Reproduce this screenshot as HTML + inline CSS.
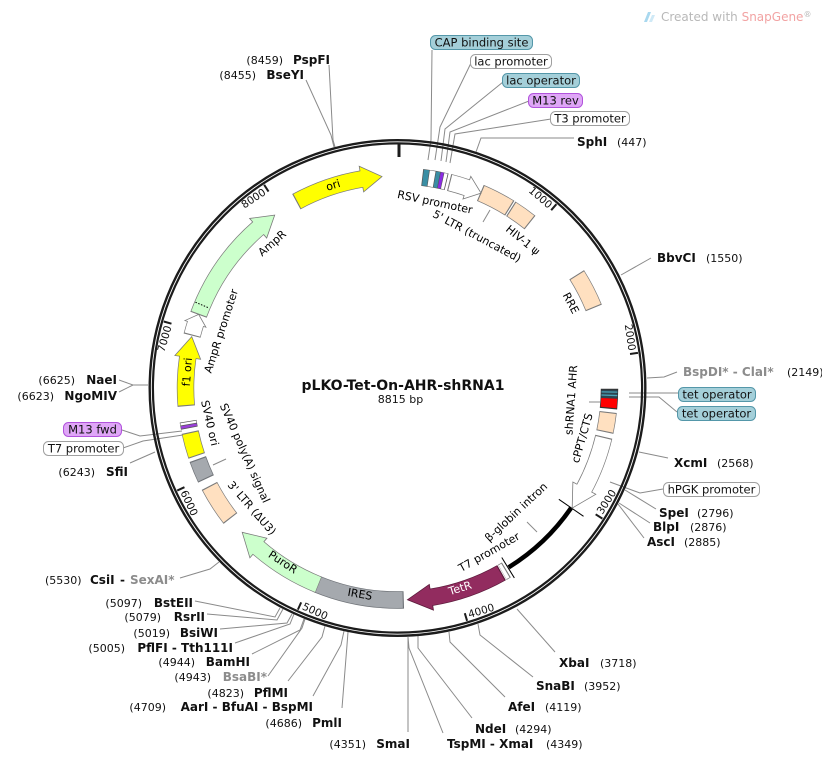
<!DOCTYPE html>
<html><head><meta charset="utf-8"><style>
html,body{margin:0;padding:0;background:#fff;}
svg{display:block;}
text{font-family:"DejaVu Sans","Liberation Sans",sans-serif;}
</style></head><body>
<svg width="822" height="761" viewBox="0 0 822 761" xmlns="http://www.w3.org/2000/svg">
<rect width="822" height="761" fill="#fff"/>

<!-- watermark -->
<g>
<path d="M644 22 L648 12 L651 12 L647 22 Z" fill="#a9d8ef"/>
<path d="M649 22 L652 15 L655 15 L652 22 Z" fill="#cfe9f6"/>
<text x="661" y="21" font-size="12" fill="#b8b8b8">Created with <tspan fill="#f2a3a3">SnapGene</tspan><tspan font-size="8" dy="-4">®</tspan></text>
</g>

<!-- connector lines (absolute) -->
<g fill="none" stroke="#8a8a8a" stroke-width="1">
<polyline points="329,65 333,140 335,147"/>
<polyline points="306,80 331,135 334,147"/>
<polyline points="574,138 481,138 476,152"/>
<polyline points="651,258 621,275"/>
<polyline points="677,372 664,377 647,378"/>
<polyline points="668,458 639,452"/>
<polyline points="656,509 625,490"/>
<polyline points="650,523 619,503"/>
<polyline points="644,538 618,504"/>
<polyline points="555,652 517,609"/>
<polyline points="533,677 480,635 478,624"/>
<polyline points="505,697 450,642 449,632"/>
<polyline points="472,718 418,648 418,636"/>
<polyline points="443,733 409,648 408,637"/>
<polyline points="408,732 408,637"/>
<polyline points="342,708 347,645 348,632"/>
<polyline points="313,696 341,645 344,631"/>
<polyline points="288,681 322,637 325,626"/>
<polyline points="268,676 302,628 305,619"/>
<polyline points="252,654 300,630 304,619"/>
<polyline points="235,643 290,624 294,614"/>
<polyline points="220,629 287,623 292,614"/>
<polyline points="207,614 277,620 283,609"/>
<polyline points="195,601 275,617 280,608"/>
<polyline points="180,578 210,569 219,562"/>
<polyline points="130,463 155,452"/>
<polyline points="119,380 133,385 148,385"/>
<polyline points="119,392 133,385"/>
<!-- feature label lines -->
<polyline points="432,50 431,140 428,160"/>
<polyline points="471,63 440,127 435,160"/>
<polyline points="503,82 445,129 441,161"/>
<polyline points="529,101 450,132 446,162"/>
<polyline points="551,119 455,134 450,163"/>
<polyline points="678,393 629,393"/>
<polyline points="677,412 659,397 629,397"/>
<polyline points="663,489 640,493 610,482"/>
<polyline points="122,430 140,436 182,431"/>
<polyline points="123,448 143,441 183,435"/>
<polyline points="589,402 600,402"/>
<polyline points="490,210 483,222"/>
<polyline points="226,459 213,465"/>
<polyline points="527,522 537,532"/>
</g>

<g transform="translate(397.5,388)">
<!-- backbone ring -->
<circle r="247.8" fill="none" stroke="#1c1c1c" stroke-width="2.4"/>
<circle r="244.6" fill="none" stroke="#1c1c1c" stroke-width="2.2"/>
<!-- ticks -->
<line x1="1.5" y1="-245" x2="1.5" y2="-231" stroke="#1c1c1c" stroke-width="3"/>
<g stroke="#1c1c1c" stroke-width="2">
<line x1="0" y1="-243" x2="0" y2="-235" transform="rotate(40.84)"/>
<line x1="0" y1="-243" x2="0" y2="-235" transform="rotate(81.68)"/>
<line x1="0" y1="-243" x2="0" y2="-235" transform="rotate(122.52)"/>
<line x1="0" y1="-243" x2="0" y2="-235" transform="rotate(163.36)"/>
<line x1="0" y1="-243" x2="0" y2="-235" transform="rotate(204.2)"/>
<line x1="0" y1="-243" x2="0" y2="-235" transform="rotate(245.04)"/>
<line x1="0" y1="-243" x2="0" y2="-235" transform="rotate(285.88)"/>
<line x1="0" y1="-243" x2="0" y2="-235" transform="rotate(326.72)"/>
</g>
<g font-size="10.5" fill="#111">
<text x="-3" y="-234" text-anchor="end" transform="rotate(40.84)">1000</text>
<text x="-3" y="-234" text-anchor="end" transform="rotate(81.68)">2000</text>
<text x="3" y="241" transform="rotate(-57.48)">3000</text>
<text x="3" y="241" transform="rotate(-16.64)">4000</text>
<text x="3" y="241" transform="rotate(24.2)">5000</text>
<text x="3" y="241" transform="rotate(65.04)">6000</text>
<text x="-3" y="-234" text-anchor="end" transform="rotate(285.88)">7000</text>
<text x="-3" y="-234" text-anchor="end" transform="rotate(326.72)">8000</text>
</g>

<!-- features -->
<g fill="none">
<!-- ori -->
<circle r="212" stroke="#7a7a7a" stroke-width="17.4" stroke-dasharray="69.2 2000" transform="rotate(241.5)"/>
<polygon points="0,-225 20.7,-211 0,-199" fill="#ffff00" stroke="#7a7a7a" stroke-width="0.8" transform="rotate(350.2)"/>
<circle r="212" stroke="#ffff00" stroke-width="16" stroke-dasharray="70.1 2000" transform="rotate(241.8)"/>
<!-- AmpR -->
<circle r="212" stroke="#7a7a7a" stroke-width="17.4" stroke-dasharray="106.2 2000" transform="rotate(200.2)"/>
<polygon points="0,-225 21.1,-211 0,-199" fill="#ccffcc" stroke="#7a7a7a" stroke-width="0.8" transform="rotate(318.9)"/>
<circle r="212" stroke="#ccffcc" stroke-width="16" stroke-dasharray="106.9 2000" transform="rotate(200.5)"/>
<line x1="0" y1="-219.5" x2="0" y2="-204.5" stroke="#000" stroke-width="1" stroke-dasharray="1.5 1.5" transform="rotate(293)"/>
<!-- AmpR promoter -->
<circle r="212" stroke="#7a7a7a" stroke-width="17.4" stroke-dasharray="12.2 2000" transform="rotate(194.3)"/>
<polygon points="0,-223 10,-211.8 0,-201" fill="#fff" stroke="#7a7a7a" stroke-width="0.8" transform="rotate(287.6)"/>
<circle r="212" stroke="#fff" stroke-width="16" stroke-dasharray="13 2000" transform="rotate(194.6)"/>
<!-- f1 ori -->
<circle r="212" stroke="#7a7a7a" stroke-width="17.4" stroke-dasharray="48.8 2000" transform="rotate(175.1)"/>
<polygon points="0,-225 21.1,-211 0,-199" fill="#ffff00" stroke="#7a7a7a" stroke-width="0.8" transform="rotate(278.3)"/>
<circle r="212" stroke="#ffff00" stroke-width="16" stroke-dasharray="49.6 2000" transform="rotate(175.4)"/>
<!-- M13 fwd / T7 -->
<circle r="212" stroke="#555" stroke-width="17" stroke-dasharray="7 2000" transform="rotate(169.1)"/>
<circle r="212" stroke="#9a3fd8" stroke-width="16" stroke-dasharray="2.6 2000" transform="rotate(169.3)"/>
<circle r="212" stroke="#fff" stroke-width="16" stroke-dasharray="2.2 2000" transform="rotate(170.2)"/>
<!-- SV40 ori -->
<circle r="212" stroke="#7a7a7a" stroke-width="17.4" stroke-dasharray="24.8 2000" transform="rotate(161.3)"/>
<circle r="212" stroke="#ffff00" stroke-width="16" stroke-dasharray="22.6 2000" transform="rotate(161.6)"/>
<!-- SV40 polyA -->
<circle r="212" stroke="#6f7378" stroke-width="17.4" stroke-dasharray="21.5 2000" transform="rotate(154.6)"/>
<circle r="212" stroke="#a5a9ae" stroke-width="16" stroke-dasharray="19.2 2000" transform="rotate(154.9)"/>
<!-- 3' LTR -->
<circle r="212" stroke="#7a7a7a" stroke-width="17.4" stroke-dasharray="38.9 2000" transform="rotate(142)"/>
<circle r="212" stroke="#ffe0c0" stroke-width="16" stroke-dasharray="36.6 2000" transform="rotate(142.3)"/>
<!-- IRES -->
<circle r="212" stroke="#6f7378" stroke-width="17.4" stroke-dasharray="88.8 2000" transform="rotate(88.3)"/>
<circle r="212" stroke="#a5a9ae" stroke-width="16" stroke-dasharray="86.6 2000" transform="rotate(88.6)"/>
<!-- PuroR -->
<circle r="212" stroke="#7a7a7a" stroke-width="17.4" stroke-dasharray="70.9 2000" transform="rotate(111.85)"/>
<polygon points="0,-225 22.5,-210.8 0,-199" fill="#ccffcc" stroke="#7a7a7a" stroke-width="0.8" transform="rotate(221)"/>
<circle r="212" stroke="#ccffcc" stroke-width="16" stroke-dasharray="72.2 2000" transform="rotate(112)"/>
<!-- TetR -->
<circle r="212" stroke="#5a1a3a" stroke-width="17.4" stroke-dasharray="74.7 2000" transform="rotate(60.6)"/>
<polygon points="0,-225 24,-210.6 0,-199" fill="#922c5f" stroke="#5a1a3a" stroke-width="0.8" transform="rotate(170.8)"/>
<circle r="212" stroke="#922c5f" stroke-width="16" stroke-dasharray="75.5 2000" transform="rotate(60.9)"/>
<!-- T7 promoter -->
<circle r="212" stroke="#7a7a7a" stroke-width="17.4" stroke-dasharray="4.8 2000" transform="rotate(59.1)"/>
<circle r="212" stroke="#fff" stroke-width="16" stroke-dasharray="3.4 2000" transform="rotate(59.4)"/>
<!-- beta-globin intron -->
<circle r="211" stroke="#000" stroke-width="4.5" stroke-dasharray="86.9 2000" transform="rotate(34.6)"/>
<line x1="0" y1="-223" x2="0" y2="-199" stroke="#000" stroke-width="1" transform="rotate(148.4)"/>
<line x1="0" y1="-226" x2="0" y2="-196" stroke="#000" stroke-width="1" transform="rotate(124.6)"/>
<!-- hPGK promoter -->
<circle r="212" stroke="#7a7a7a" stroke-width="17.4" stroke-dasharray="55.1 2000" transform="rotate(13.3)"/>
<polygon points="0,-225 23.3,-210.7 0,-199" fill="#fff" stroke="#7a7a7a" stroke-width="0.8" transform="rotate(118.2)"/>
<circle r="212" stroke="#fff" stroke-width="16" stroke-dasharray="55.9 2000" transform="rotate(13.6)"/>
<!-- cPPT/CTS -->
<circle r="212" stroke="#7a7a7a" stroke-width="17.4" stroke-dasharray="20.4 2000" transform="rotate(6.5)"/>
<circle r="212" stroke="#ffe0c0" stroke-width="16" stroke-dasharray="18.1 2000" transform="rotate(6.8)"/>
<!-- tet operators / shRNA -->
<circle r="212" stroke="#333" stroke-width="17.4" stroke-dasharray="20 2000" transform="rotate(0.2)"/>
<circle r="212" stroke="#2e4450" stroke-width="16" stroke-dasharray="8.5 2000" transform="rotate(0.5)"/>
<circle r="212" stroke="#4aa3b8" stroke-width="16" stroke-dasharray="1.3 2000" transform="rotate(0.9)"/>
<circle r="212" stroke="#4aa3b8" stroke-width="16" stroke-dasharray="1.3 2000" transform="rotate(1.8)"/>
<circle r="212" stroke="#ff0000" stroke-width="16" stroke-dasharray="9.25 2000" transform="rotate(2.8)"/>
<!-- RRE -->
<circle r="212" stroke="#7a7a7a" stroke-width="17.4" stroke-dasharray="37.4 2000" transform="rotate(-32.3)"/>
<circle r="212" stroke="#ffe0c0" stroke-width="16" stroke-dasharray="35.2 2000" transform="rotate(-32)"/>
<!-- HIV-1 psi -->
<circle r="212" stroke="#7a7a7a" stroke-width="17.4" stroke-dasharray="23.7 2000" transform="rotate(-57.7)"/>
<circle r="212" stroke="#ffe0c0" stroke-width="16" stroke-dasharray="21.5 2000" transform="rotate(-57.4)"/>
<!-- 5' LTR -->
<circle r="212" stroke="#7a7a7a" stroke-width="17.4" stroke-dasharray="33.3 2000" transform="rotate(-67)"/>
<circle r="212" stroke="#ffe0c0" stroke-width="16" stroke-dasharray="31.1 2000" transform="rotate(-66.7)"/>
<!-- RSV promoter -->
<circle r="212" stroke="#7a7a7a" stroke-width="17.4" stroke-dasharray="18.5 2000" transform="rotate(-75.9)"/>
<polygon points="0,-224 15.2,-211.5 0,-200" fill="#fff" stroke="#7a7a7a" stroke-width="0.8" transform="rotate(19.1)"/>
<circle r="212" stroke="#fff" stroke-width="16" stroke-dasharray="19.2 2000" transform="rotate(-75.6)"/>
<!-- lac cluster -->
<circle r="212" stroke="#555" stroke-width="17" stroke-dasharray="24.8 2000" transform="rotate(-83.3)"/>
<circle r="212" stroke="#3a8ea4" stroke-width="16" stroke-dasharray="5.2 2000" transform="rotate(-83.1)"/>
<circle r="212" stroke="#fff" stroke-width="16" stroke-dasharray="5.7 2000" transform="rotate(-81.55)"/>
<circle r="212" stroke="#3a8ea4" stroke-width="16" stroke-dasharray="3.9 2000" transform="rotate(-79.85)"/>
<circle r="212" stroke="#8a2be2" stroke-width="16" stroke-dasharray="3 2000" transform="rotate(-78.65)"/>
<circle r="212" stroke="#fff" stroke-width="16" stroke-dasharray="3.3 2000" transform="rotate(-77.7)"/>
</g>
</g>

<!-- interior labels -->
<g font-size="11" fill="#000" text-anchor="middle">
<text transform="translate(333,185) rotate(-17.6)" dy="0.35em">ori</text>
<text transform="translate(272,243) rotate(-41)" dy="0.35em">AmpR</text>
<text transform="translate(221,331) rotate(-72)" dy="0.35em">AmpR promoter</text>
<text transform="translate(187,372) rotate(-85.7)" dy="0.35em">f1 ori</text>
<text transform="translate(210,423) rotate(77)" dy="0.35em">SV40 ori</text>
<text transform="translate(245,453) rotate(66)" dy="0.35em">SV40 poly(A) signal</text>
<text transform="translate(252,508) rotate(49)" dy="0.35em">3' LTR (ΔU3)</text>
<text transform="translate(283,562) rotate(33)" dy="0.35em">PuroR</text>
<text transform="translate(360,594) rotate(10)" dy="0.35em">IRES</text>
<text transform="translate(460,588) rotate(-17.4)" dy="0.35em" fill="#fff">TetR</text>
<text transform="translate(489,552) rotate(-29.5)" dy="0.35em">T7 promoter</text>
<text transform="translate(516,512) rotate(-43)" dy="0.35em">β-globin intron</text>
<text transform="translate(582,438) rotate(-74)" dy="0.35em">cPPT/CTS</text>
<text transform="translate(571,400) rotate(-86)" dy="0.35em">shRNA1 AHR</text>
<text transform="translate(571,303) rotate(62)" dy="0.35em">RRE</text>
<text transform="translate(523,240) rotate(39)" dy="0.35em">HIV-1 ψ</text>
<text transform="translate(477,236) rotate(28)" dy="0.35em">5' LTR (truncated)</text>
<text transform="translate(435,202) rotate(12)" dy="0.35em">RSV promoter</text>
</g>

<!-- title -->
<text x="403" y="390" text-anchor="middle" font-weight="bold" font-size="14" fill="#111">pLKO-Tet-On-AHR-shRNA1</text>
<text x="400.5" y="403" text-anchor="middle" font-size="11" fill="#111">8815 bp</text>

<!-- feature label boxes -->
<g stroke-width="1">
<rect x="430.5" y="35.5" width="102" height="14" rx="5" fill="#a4cfd9" stroke="#5497a9"/>
<rect x="470.5" y="54.5" width="81" height="14" rx="5" fill="#fff" stroke="#a0a0a0"/>
<rect x="502.5" y="73.5" width="77" height="14" rx="5" fill="#a4cfd9" stroke="#5497a9"/>
<rect x="528.5" y="93.5" width="54" height="14" rx="5" fill="#dfa6f7" stroke="#b153dc"/>
<rect x="550.5" y="111.5" width="79" height="14" rx="5" fill="#fff" stroke="#a0a0a0"/>
<rect x="678.5" y="387.5" width="77" height="14" rx="5" fill="#a4cfd9" stroke="#5497a9"/>
<rect x="677.5" y="406.5" width="78" height="14" rx="5" fill="#a4cfd9" stroke="#5497a9"/>
<rect x="663.5" y="482.5" width="96" height="14" rx="5" fill="#fff" stroke="#a0a0a0"/>
<rect x="63.5" y="422.5" width="58" height="14" rx="5" fill="#dfa6f7" stroke="#b153dc"/>
<rect x="43.5" y="441.5" width="80" height="14" rx="5" fill="#fff" stroke="#a0a0a0"/>
</g>
<g font-size="11.5" fill="#111" text-anchor="middle">
<text x="481.5" y="46.5">CAP binding site</text>
<text x="511" y="65.5">lac promoter</text>
<text x="541" y="84.5">lac operator</text>
<text x="555.5" y="104.5">M13 rev</text>
<text x="590" y="122.5">T3 promoter</text>
<text x="717" y="398.5">tet operator</text>
<text x="716.5" y="417.5">tet operator</text>
<text x="711.5" y="493.5">hPGK promoter</text>
<text x="92.5" y="433.5">M13 fwd</text>
<text x="83.5" y="452.5">T7 promoter</text>
</g>

<!-- enzyme labels: left side (anchor end) -->
<g fill="#111" text-anchor="end">
<text x="283" y="64" font-size="11">(8459)</text><text x="330" y="64" font-size="12" font-weight="bold">PspFI</text>
<text x="256" y="79" font-size="11">(8455)</text><text x="304" y="79" font-size="12" font-weight="bold">BseYI</text>
<text x="75" y="384" font-size="11">(6625)</text><text x="117" y="384" font-size="12" font-weight="bold">NaeI</text>
<text x="54" y="400" font-size="11">(6623)</text><text x="117" y="400" font-size="12" font-weight="bold">NgoMIV</text>
<text x="95" y="476" font-size="11">(6243)</text><text x="128" y="476" font-size="12" font-weight="bold">SfiI</text>
<text x="142" y="607" font-size="11">(5097)</text><text x="193" y="607" font-size="12" font-weight="bold">BstEII</text>
<text x="161" y="621" font-size="11">(5079)</text><text x="205" y="621" font-size="12" font-weight="bold">RsrII</text>
<text x="170" y="637" font-size="11">(5019)</text><text x="218" y="637" font-size="12" font-weight="bold">BsiWI</text>
<text x="125" y="652" font-size="11">(5005)</text><text x="233" y="652" font-size="12" font-weight="bold">PflFI - Tth111I</text>
<text x="195" y="666" font-size="11">(4944)</text><text x="250" y="666" font-size="12" font-weight="bold">BamHI</text>
<text x="211" y="681" font-size="11">(4943)</text><text x="267" y="681" font-size="12" font-weight="bold" fill="#8c8c8c">BsaBI*</text>
<text x="244" y="697" font-size="11">(4823)</text><text x="288" y="697" font-size="12" font-weight="bold">PflMI</text>
<text x="166" y="711" font-size="11">(4709)</text><text x="313" y="711" font-size="12" font-weight="bold">AarI - BfuAI - BspMI</text>
<text x="302" y="727" font-size="11">(4686)</text><text x="342" y="727" font-size="12" font-weight="bold">PmlI</text>
<text x="366" y="748" font-size="11">(4351)</text><text x="410" y="748" font-size="12" font-weight="bold">SmaI</text>
</g>
<g fill="#111">
<text x="45" y="584" font-size="11">(5530)</text>
<text x="90" y="584" font-size="12" font-weight="bold">CsiI</text>
<text x="120" y="584" font-size="12" font-weight="bold">-</text>
<text x="130" y="584" font-size="12" font-weight="bold" fill="#8c8c8c">SexAI*</text>
</g>

<!-- enzyme labels: right side (anchor start) -->
<g fill="#111">
<text x="577" y="146" font-size="12" font-weight="bold">SphI</text><text x="617" y="146" font-size="11">(447)</text>
<text x="657" y="262" font-size="12" font-weight="bold">BbvCI</text><text x="706" y="262" font-size="11">(1550)</text>
<text x="683" y="376" font-size="12" font-weight="bold" fill="#8c8c8c">BspDI* - ClaI*</text><text x="787" y="376" font-size="11">(2149)</text>
<text x="674" y="467" font-size="12" font-weight="bold">XcmI</text><text x="717" y="467" font-size="11">(2568)</text>
<text x="659" y="517" font-size="12" font-weight="bold">SpeI</text><text x="697" y="517" font-size="11">(2796)</text>
<text x="653" y="531" font-size="12" font-weight="bold">BlpI</text><text x="690" y="531" font-size="11">(2876)</text>
<text x="647" y="546" font-size="12" font-weight="bold">AscI</text><text x="684" y="546" font-size="11">(2885)</text>
<text x="559" y="667" font-size="12" font-weight="bold">XbaI</text><text x="600" y="667" font-size="11">(3718)</text>
<text x="536" y="690" font-size="12" font-weight="bold">SnaBI</text><text x="584" y="690" font-size="11">(3952)</text>
<text x="508" y="711" font-size="12" font-weight="bold">AfeI</text><text x="545" y="711" font-size="11">(4119)</text>
<text x="475" y="733" font-size="12" font-weight="bold">NdeI</text><text x="515" y="733" font-size="11">(4294)</text>
<text x="447" y="748" font-size="12" font-weight="bold">TspMI - XmaI</text><text x="546" y="748" font-size="11">(4349)</text>
</g>
</svg>
</body></html>
